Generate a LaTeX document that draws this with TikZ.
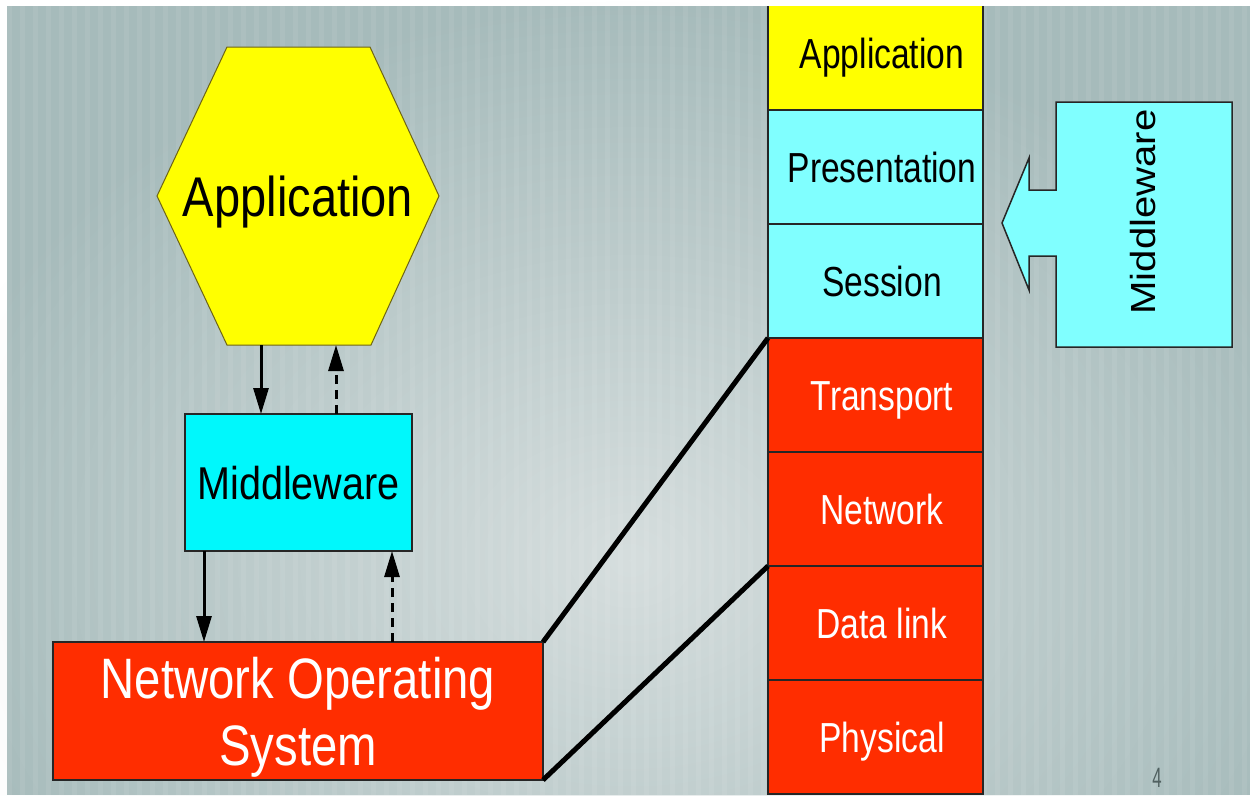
\documentclass[tikz,border=0pt]{standalone}
\usepackage{graphicx}
\usepackage{fontspec}
\setmainfont{Liberation Sans}
\usetikzlibrary{arrows.meta,fadings}
\definecolor{bgbase}{RGB}{166,187,187}
\definecolor{bglight}{RGB}{214,222,222}
\definecolor{appyellow}{RGB}{255,255,0}
\definecolor{mwcyan}{RGB}{0,248,252}
\definecolor{lcyan}{RGB}{128,255,255}
\definecolor{osred}{RGB}{255,45,0}
\definecolor{pagegray}{RGB}{80,96,96}
\definecolor{hexedge}{RGB}{110,100,20}
\tikzfading[name=softglow, inner color=transparent!0, outer color=transparent!100]
\newcommand{\sqz}[2]{\scalebox{#1}[1]{#2}}
\begin{document}
\begin{tikzpicture}[x=1pt,y=-1pt,
  box/.style={draw=black!85, line width=1.5pt, inner sep=0pt, outer sep=0pt},
  cell/.style={box, minimum width=215pt, minimum height=114pt, text height=30pt, text depth=0pt,
    font=\fontsize{42}{46}\selectfont, execute at begin node=\hspace*{13pt}},
  darkcell/.style={cell, fill=lcyan, text=black},
  redcell/.style={cell, fill=osred, text=white},
  arr/.style={line width=3pt, -{Triangle[length=26pt,width=15pt]}},
  dsh/.style={dash pattern=on 9pt off 6pt},
  link/.style={line width=5pt, black}
]
\useasboundingbox (0,0) rectangle (1250,795);
% background
\fill[white] (0,0) rectangle (1250,795);
\fill[bgbase] (7,6) rectangle (1250,795);
\fill[bglight, path fading=softglow] (630,560) ellipse [x radius=720pt, y radius=560pt];
\foreach \i in {0,...,95} {
  \fill[white, opacity=0.07] (7+13*\i,6) rectangle (12+13*\i,795);
}

% hexagon application
\filldraw[fill=appyellow, draw=hexedge, line width=1pt]
  (227,47) -- (370,47) -- (439,196) -- (371,345) -- (227,345) -- (157,196) -- cycle;
\node[text height=40pt, text depth=0pt, inner sep=0pt, font=\fontsize{56}{60}\selectfont] (app) at (298,196) {\sqz{0.84}{Application}};
\coordinate (h1) at (261,345);
\coordinate (h2) at (336,345);

% middleware (left)
\node[box, fill=mwcyan, minimum width=227pt, minimum height=137pt, text height=33pt, text depth=0pt,
  font=\fontsize{46}{50}\selectfont] (mwL) at (298.5,482.5) {\sqz{0.86}{Middleware}};

% network operating system
\node[box, fill=osred, text=white, minimum width=490pt, minimum height=138pt, align=center, text depth=0pt,
  font=\fontsize{57}{67}\selectfont] (nos) at (298,711) {\sqz{0.83}{Network Operating}\\\sqz{0.83}{System}};

% arrows
\draw[arr] (h1) -- (h1 |- mwL.north);
\draw[arr, dsh] (h2 |- mwL.north) -- (h2);
\coordinate (m1) at (204,0);
\coordinate (m2) at (392,0);
\draw[arr] (m1 |- mwL.south) -- (m1 |- nos.north);
\draw[arr, dsh] (m2 |- nos.north) -- (m2 |- mwL.south);

% OSI stack
\begin{scope}
\clip (7,6) rectangle (1250,795);
\node[cell, fill=appyellow] (appR) at (875.5,53) {\sqz{0.8}{Application}};
\node[darkcell] (pres) at (875.5,167) {\sqz{0.8}{Presentation}};
\node[darkcell] (sess) at (875.5,281) {\sqz{0.8}{Session}};
\node[redcell] (trans) at (875.5,395) {\sqz{0.8}{Transport}};
\node[redcell] (netw) at (875.5,509) {\sqz{0.8}{Network}};
\node[redcell] (dlink) at (875.5,623) {\sqz{0.8}{Data link}};
\node[redcell] (phys) at (875.5,737) {\sqz{0.8}{Physical}};
\end{scope}

% links
\draw[link] (nos.north east) -- (trans.north west);
\draw[link] (nos.south east) -- (dlink.north west);

% middleware arrow (right)
\filldraw[fill=lcyan, draw=black!85, line width=1.5pt]
  (1056,102) -- (1232,102) -- (1232,347) -- (1056,347) -- (1056,256) -- (1029,256)
  -- (1029,290) -- (1002,223) -- (1029,158) -- (1029,190) -- (1056,190) -- cycle;
\node[rotate=90, inner sep=0pt, text height=25pt, text depth=0pt, font=\fontsize{42}{46}\selectfont]
  (mwR) at (1143,212) {\scalebox{0.955}[0.83]{Middleware}};

% page number
\node[text=pagegray, inner sep=0pt, font=\fontsize{28}{30}\selectfont] (pg) at (1157,778) {\sqz{0.6}{4}};
\end{tikzpicture}
\end{document}
